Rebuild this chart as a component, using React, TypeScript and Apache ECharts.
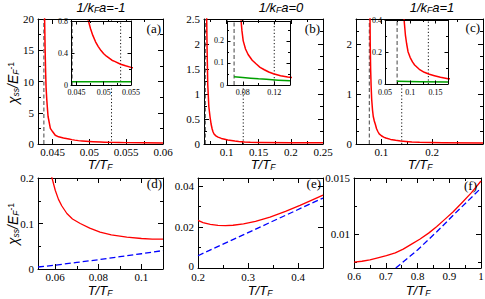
import React, { useEffect, useRef } from "react";
import * as echarts from "echarts";

// ---------------- data ----------------
// column (a): 1/kFa = -1
const redA: number[][] = [
  [0.04375, 40], [0.0438, 30], [0.0439, 20], [0.04397, 15], [0.04405, 11], [0.0441, 9], [0.0442, 7],
  [0.0443, 5.4], [0.04437, 4.4], [0.0445, 3.6], [0.04468, 2.5], [0.045, 1.95], [0.04535, 1.4],
  [0.0458, 1.15], [0.04646, 0.95], [0.0472, 0.8], [0.0476, 0.7], [0.048, 0.62], [0.0485, 0.54],
  [0.049, 0.48], [0.0495, 0.43], [0.05, 0.39], [0.0505, 0.36], [0.0515, 0.31], [0.052, 0.295],
  [0.0531, 0.26], [0.054, 0.24], [0.055, 0.22], [0.0575, 0.19], [0.06, 0.17],
];
const greenA: number[][] = [[0.0442, 0.042], [0.05, 0.041], [0.055, 0.04]];
// column (b): 1/kFa = 0
const redB: number[][] = [
  [0.0686, 6], [0.0692, 2.5], [0.0698, 1.9], [0.0708, 1.2], [0.0725, 0.75], [0.0743, 0.55],
  [0.076, 0.4], [0.0777, 0.3], [0.079, 0.245], [0.0806, 0.2], [0.0835, 0.163], [0.0868, 0.138],
  [0.092, 0.112], [0.0972, 0.095], [0.102, 0.08], [0.1074, 0.069], [0.113, 0.059], [0.119, 0.051],
  [0.128, 0.042], [0.137, 0.036], [0.152, 0.031], [0.2, 0.027], [0.25, 0.025],
];
const greenB: number[][] = [[0.069, 0.037], [0.08, 0.034], [0.09, 0.031], [0.1, 0.028], [0.11, 0.026], [0.125, 0.022], [0.14, 0.019]];
// column (c): 1/kFa = 1
const redC: number[][] = [
  [0.0768, 6], [0.0776, 2.5], [0.078, 2.0], [0.0788, 1.5], [0.0798, 1.15], [0.0809, 0.89],
  [0.0825, 0.68], [0.084, 0.55], [0.086, 0.46], [0.0879, 0.4], [0.0905, 0.306], [0.093, 0.25],
  [0.0957, 0.202], [0.1, 0.165], [0.1045, 0.138], [0.1088, 0.119], [0.118, 0.092], [0.128, 0.073],
  [0.138, 0.061], [0.148, 0.052], [0.16, 0.042], [0.175, 0.033], [0.22, 0.024], [0.3, 0.018],
];
const greenC: number[][] = [[0.074, 0.017], [0.12, 0.014], [0.175, 0.012]];
// dashed (Tc) and dotted (T*) markers: [main, inset]
const dashedA = [0.0438, 0.0442];
const dottedA = [0.053, 0.0531];
const dashedB = [0.067, 0.069];
const dottedB = [0.126, 0.12];
const dashedC = [0.0762, 0.074];
const dottedC = [0.14, 0.136];
// bottom row
const redD: number[][] = [
  [0.0575, 0.215], [0.0585, 0.2], [0.06, 0.173], [0.0615, 0.153], [0.063, 0.139], [0.0654, 0.122],
  [0.068, 0.11], [0.0716, 0.1], [0.076, 0.09], [0.0808, 0.081], [0.086, 0.075], [0.0932, 0.07],
  [0.1, 0.067], [0.105, 0.0658], [0.11, 0.0655],
];
const blueD: number[][] = [
  [0.052, 0.0044], [0.06, 0.0085], [0.07, 0.0145], [0.08, 0.0205], [0.09, 0.027], [0.1, 0.0335], [0.11, 0.0406],
];
const redE: number[][] = [
  [0.2, 0.0233], [0.21, 0.0222], [0.2245, 0.0213], [0.24, 0.0208], [0.255, 0.0207], [0.27, 0.0209],
  [0.291, 0.0216], [0.315, 0.0228], [0.344, 0.0249], [0.375, 0.0277], [0.404, 0.0306], [0.43, 0.0334], [0.45, 0.0356],
];
const blueE: number[][] = [[0.2, 0.006], [0.324, 0.02], [0.45, 0.0342]];
const redF: number[][] = [
  [0.6, 0.00753], [0.625, 0.0076], [0.65, 0.00773], [0.675, 0.0079], [0.702, 0.00809], [0.73, 0.00835],
  [0.755, 0.00868], [0.78, 0.0091], [0.807, 0.00956], [0.835, 0.0101], [0.86, 0.01067], [0.885, 0.0113],
  [0.9125, 0.012], [0.94, 0.0128], [0.97, 0.0137], [1.0, 0.01473],
];
const blueF: number[][] = [[0.7316, 0.007], [0.8, 0.0086], [0.86, 0.0102], [0.92, 0.0119], [1.0, 0.0141]];

const columnTitles = ["-1", "0", "1"];
const panelLetters = ["(a)", "(b)", "(c)", "(d)", "(e)", "(f)"];

// ---------------- layout ----------------
const SERIF = "'Liberation Serif', 'DejaVu Serif', serif";
const SANS = "'Liberation Sans', Arial, sans-serif";
const RED = "#ff0000";
const GREEN = "#00a000";
const BLUE = "#0000ff";

type AxisDef = { min: number; max: number; major: number[]; minor: number[]; labels: number[] };
type PanelDef = { rect: number[]; x: AxisDef; y: AxisDef; inset: boolean; corner?: boolean };

const panels: Record<string, PanelDef> = {
  a: {
    rect: [38, 19, 125, 125], inset: false,
    x: { min: 0.043, max: 0.06, major: [0.045, 0.05, 0.055, 0.06], minor: [0.0475, 0.0525, 0.0575], labels: [0.045, 0.05, 0.055, 0.06] },
    y: { min: 0, max: 20, major: [0, 5, 10, 15, 20], minor: [2.5, 7.5, 12.5, 17.5], labels: [0, 5, 10, 15, 20] },
  },
  b: {
    rect: [204, 19, 119, 125], inset: false,
    x: { min: 0.065, max: 0.25, major: [0.1, 0.15, 0.2, 0.25], minor: [0.075, 0.125, 0.175, 0.225], labels: [0.1, 0.15, 0.2, 0.25] },
    y: { min: 0, max: 2.5, major: [0, 0.5, 1, 1.5, 2, 2.5], minor: [0.25, 0.75, 1.25, 1.75, 2.25], labels: [0, 0.5, 1, 1.5, 2, 2.5] },
  },
  c: {
    rect: [356, 19, 127, 125], inset: false,
    x: { min: 0.05, max: 0.3, major: [0.1, 0.2], minor: [0.15, 0.25], labels: [0.1, 0.2] },
    y: { min: 0, max: 2.5, major: [0, 1, 2], minor: [0.25, 0.5, 0.75, 1.25, 1.5, 1.75, 2.25], labels: [0, 1, 2] },
  },
  d: {
    rect: [38, 178, 125, 91], inset: false,
    x: { min: 0.052, max: 0.11, major: [0.06, 0.08, 0.1], minor: [0.07, 0.09], labels: [0.06, 0.08, 0.1] },
    y: { min: 0, max: 0.2, major: [0, 0.1, 0.2], minor: [0.05, 0.15], labels: [0, 0.1, 0.2] },
  },
  e: {
    rect: [198, 178, 125, 90], inset: false, corner: true,
    x: { min: 0.2, max: 0.45, major: [0.2, 0.3, 0.4], minor: [0.25, 0.35], labels: [0.2, 0.3, 0.4] },
    y: { min: 0, max: 0.044, major: [0, 0.02, 0.04], minor: [0.01, 0.03], labels: [0, 0.02, 0.04] },
  },
  f: {
    rect: [354, 178, 127, 90], inset: false,
    x: { min: 0.6, max: 1, major: [0.6, 0.7, 0.8, 0.9, 1], minor: [0.65, 0.75, 0.85, 0.95], labels: [0.6, 0.7, 0.8, 0.9, 1] },
    y: { min: 0.007, max: 0.015, major: [0.01, 0.015], minor: [0.0075, 0.0125], labels: [0.01, 0.015] },
  },
  ai: {
    rect: [71, 21, 60, 64], inset: true,
    x: { min: 0.044, max: 0.055, major: [0.045, 0.05, 0.055], minor: [0.0475, 0.0525], labels: [0.045, 0.05, 0.055] },
    y: { min: 0, max: 0.8, major: [0, 0.4, 0.8], minor: [0.2, 0.6], labels: [0, 0.4, 0.8] },
  },
  bi: {
    rect: [227, 21, 63, 64], inset: true,
    x: { min: 0.06, max: 0.14, major: [0.08, 0.12], minor: [0.1], labels: [0.08, 0.12] },
    y: { min: 0, max: 0.29, major: [0, 0.1, 0.2], minor: [0.05, 0.15, 0.25], labels: [0, 0.1, 0.2] },
  },
  ci: {
    rect: [385, 20, 63, 64], inset: true, corner: true,
    x: { min: 0.05, max: 0.175, major: [0.05, 0.1, 0.15], minor: [0.075, 0.125], labels: [0.05, 0.1, 0.15] },
    y: { min: 0, max: 0.4, major: [0, 0.2, 0.4], minor: [0.1, 0.3], labels: [0, 0.2, 0.4] },
  },
};

const fmt = (v: number) => String(parseFloat(Number(v).toPrecision(6)));

function buildOption() {
  const grid: any[] = [];
  const xAxis: any[] = [];
  const yAxis: any[] = [];
  const series: any[] = [];
  const idx: Record<string, { x: number; y: number; inset: boolean }> = {};

  for (const key of Object.keys(panels)) {
    const p = panels[key];
    const gi = grid.length;
    const [l, t, w, h] = p.rect;
    grid.push({
      left: l, top: t, width: w, height: h, show: p.inset, backgroundColor: "#ffffff",
      borderWidth: 0, borderColor: "transparent", z: p.inset ? 5 : 0,
      containLabel: false, outerBoundsMode: "none",
    });
    const z = p.inset ? 8 : 1;
    const fs = p.inset ? 8 : 11;
    const lh = p.inset ? 7 : 9;
    const majorLen = p.inset ? 3.5 : 5;
    const minorLen = p.inset ? 2 : 3;
    const lift = p.inset ? 3 : 4;
    const mk = (a: AxisDef, pos: string, label: boolean, ticks: number[], len: number, line: boolean, isX: boolean) => ({
      type: "value", gridIndex: gi, position: pos, min: a.min, max: a.max, z,
      splitLine: { show: false }, splitArea: { show: false },
      axisLine: { show: line, onZero: false, lineStyle: { color: "#000", width: 1 } },
      axisTick: { show: ticks.length > 0, inside: true, length: len, customValues: ticks, lineStyle: { color: "#000", width: 1 } },
      axisLabel: {
        show: label, customValues: a.labels, fontSize: fs, lineHeight: lh, fontFamily: SERIF, color: "#000",
        margin: isX ? (p.inset ? (p.corner ? 4.5 : 3.5) : (p.corner ? 4 : 3)) : (p.inset ? 3 : 4),
        formatter: (v: number) => (!isX && p.corner && v === a.min ? `{lo|${fmt(v)}}` : fmt(v)),
        rich: { lo: { fontSize: fs, lineHeight: lh, fontFamily: SERIF, color: "#000", padding: [0, 0, lift, 0] } },
      },
      axisPointer: { show: false },
    });
    const xi = xAxis.length;
    xAxis.push(mk(p.x, "bottom", true, p.x.major, majorLen, true, true));
    xAxis.push(mk(p.x, "top", false, p.x.major, majorLen, true, true));
    if (p.x.minor.length) {
      xAxis.push(mk(p.x, "bottom", false, p.x.minor, minorLen, false, true));
      xAxis.push(mk(p.x, "top", false, p.x.minor, minorLen, false, true));
    }
    const yi = yAxis.length;
    yAxis.push(mk(p.y, "left", true, p.y.major, majorLen, true, false));
    yAxis.push(mk(p.y, "right", false, p.y.major, majorLen, true, false));
    if (p.y.minor.length) {
      yAxis.push(mk(p.y, "left", false, p.y.minor, minorLen, false, false));
      yAxis.push(mk(p.y, "right", false, p.y.minor, minorLen, false, false));
    }
    idx[key] = { x: xi, y: yi, inset: p.inset };
  }

  const line = (key: string, data: number[][], color: string, width: number, type: any) => ({
    type: "line", xAxisIndex: idx[key].x, yAxisIndex: idx[key].y, data,
    showSymbol: false, symbol: "none", smooth: false, clip: true, silent: true,
    lineStyle: { color, width, type, join: "round" }, z: idx[key].inset ? 6 : 2,
  });
  const vline = (key: string, xv: number, dotted: boolean) =>
    line(key, [[xv, panels[key].y.min], [xv, panels[key].y.max]], dotted ? "#111" : "#444", 1,
      dotted ? [1.2, 2.2] : [4, 2.5]);

  // top row main
  series.push(vline("a", dashedA[0], false), vline("a", dottedA[0], true), line("a", redA, RED, 1.5, "solid"));
  series.push(vline("b", dashedB[0], false), vline("b", dottedB[0], true), line("b", redB, RED, 1.5, "solid"));
  series.push(vline("c", dashedC[0], false), vline("c", dottedC[0], true), line("c", redC, RED, 1.5, "solid"));
  // insets
  series.push(vline("ai", dashedA[1], false), vline("ai", dottedA[1], true), line("ai", redA, RED, 1.5, "solid"), line("ai", greenA, GREEN, 1.5, "solid"));
  series.push(vline("bi", dashedB[1], false), vline("bi", dottedB[1], true), line("bi", redB, RED, 1.5, "solid"), line("bi", greenB, GREEN, 1.5, "solid"));
  series.push(vline("ci", dashedC[1], false), vline("ci", dottedC[1], true), line("ci", redC, RED, 1.5, "solid"), line("ci", greenC, GREEN, 1.5, "solid"));
  // bottom row
  series.push(line("d", redD, RED, 1.3, "solid"), line("d", blueD, BLUE, 1.3, [6, 3]));
  series.push(line("e", redE, RED, 1.3, "solid"), line("e", blueE, BLUE, 1.3, [6, 3]));
  series.push(line("f", redF, RED, 1.3, "solid"), line("f", blueF, BLUE, 1.3, [6, 3]));

  // texts
  const graphic: any[] = [];
  const richBase = {
    i: { fontSize: 13, fontStyle: "italic", fontFamily: SANS, color: "#000", lineHeight: 14, verticalAlign: "middle" },
    sub: { fontSize: 8.5, fontStyle: "italic", fontFamily: SANS, color: "#000", lineHeight: 7, verticalAlign: "bottom" },
    sup: { fontSize: 8.5, fontStyle: "normal", fontFamily: SANS, color: "#000", lineHeight: 7, verticalAlign: "top" },
  };
  const titleX = [101, 281, 432];
  columnTitles.forEach((v, k) => {
    graphic.push({
      type: "text", x: titleX[k], y: 7, z: 20,
      style: { text: `{i|1/k}{sub|F}{i|a=${v}}`, rich: richBase, align: "center", verticalAlign: "middle" },
    });
  });
  const xt = [[100, 164], [263, 164], [420, 164], [100, 290], [260, 290], [418, 290]];
  xt.forEach(([x, y]) => {
    graphic.push({
      type: "text", x, y, z: 20,
      style: { text: "{i|T/T}{sub|F}", rich: richBase, align: "center", verticalAlign: "middle" },
    });
  });
  [[13, 83], [13, 224]].forEach(([x, y]) => {
    graphic.push({
      type: "text", x, y, z: 20, rotation: Math.PI / 2,
      style: {
        text: "{i|χ}{sub|ss}{i|/E}{sub|F}{sup|-1}",
        rich: { ...richBase, i: { ...richBase.i, fontSize: 14 } },
        align: "center", verticalAlign: "middle",
      },
    });
  });
  const letterPos = [[161, 28], [320, 28], [480, 27], [162, 183], [321, 183], [477, 185]];
  panelLetters.forEach((s, k) => {
    graphic.push({
      type: "text", x: letterPos[k][0], y: letterPos[k][1], z: 20,
      style: { text: s, fontSize: 13, fontFamily: SERIF, fill: "#000", align: "right", verticalAlign: "middle" },
    });
  });

  return { animation: false, backgroundColor: "#ffffff", grid, xAxis, yAxis, series, graphic };
}

export default function App() {
  const ref = useRef<HTMLDivElement>(null);
  useEffect(() => {
    if (!ref.current) return;
    const chart = echarts.init(ref.current, undefined, { renderer: "svg" });
    chart.setOption(buildOption() as any);
    return () => chart.dispose();
  }, []);
  return <div ref={ref} style={{ position: "fixed", left: 0, top: 0, width: 485, height: 299 }} />;
}
